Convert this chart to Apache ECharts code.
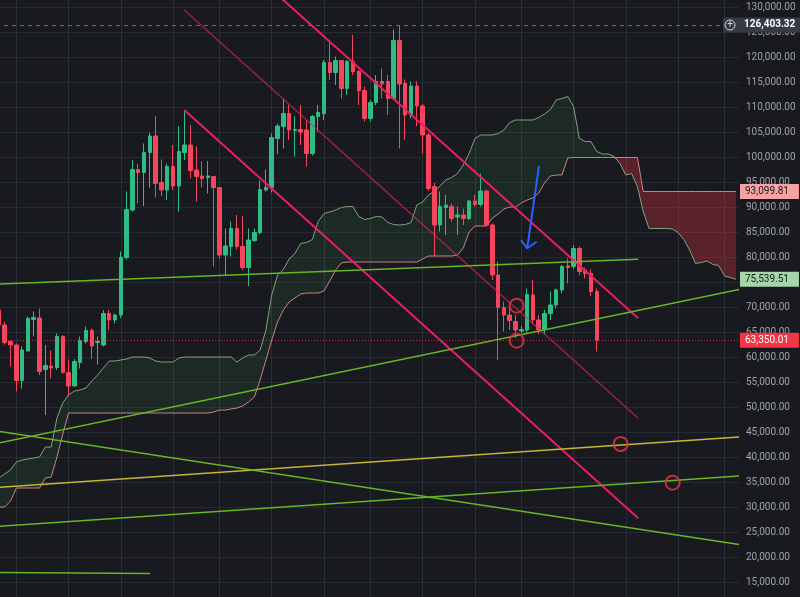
<!DOCTYPE html>
<html>
<head>
<meta charset="utf-8">
<title>BTC chart</title>
<script src="https://cdn.jsdelivr.net/npm/echarts@6/dist/echarts.min.js"></script>
<style>
    html, body { margin: 0; padding: 0; background: #181a20; }
    #main { width: 800px; height: 597px; }
</style>
</head>
<body>
<div id="main"></div>
<script>
// candles, one row per bar: [open, close, low, high]
var candles = [
    [69400, 66400, 65700, 70400], [66400, 62900, 62500, 67000], [63100, 62400, 58100, 63300],
    [62400, 55300, 53100, 62700], [55300, 61400, 53700, 62100], [61200, 67700, 61100, 68100],
    [67500, 67900, 64100, 69100], [67800, 57100, 56400, 69700], [57500, 58300, 48400, 62400],
    [58200, 57800, 55700, 61300], [57900, 64100, 57400, 64700], [64100, 56900, 56700, 64400],
    [56900, 54200, 52200, 59500], [54200, 59100, 54100, 59600], [58900, 63300, 57700, 64100],
    [63100, 65300, 62700, 66100], [65300, 62200, 59600, 65700], [62900, 63100, 58500, 64100],
    [62400, 68700, 62100, 69400], [68700, 67400, 65400, 69400], [67400, 68400, 66700, 68700],
    [68400, 79900, 67800, 81100], [79900, 89500, 79500, 93100], [89400, 97500, 89100, 99400],
    [97500, 96900, 90700, 98600], [96900, 100900, 90200, 102700], [100900, 104200, 93900, 104900],
    [104200, 94700, 91900, 108200], [94900, 93400, 92200, 99500], [93400, 98100, 91400, 98700],
    [98100, 94200, 93400, 102400], [94200, 101100, 89100, 106200], [100900, 102400, 99400, 109400],
    [102400, 97300, 95700, 106400], [97400, 96100, 91100, 102100], [96200, 95700, 93900, 99100],
    [95900, 96200, 92700, 99200], [96100, 93900, 78100, 96200], [93900, 80400, 79700, 94000],
    [80400, 82200, 76400, 85700], [82100, 85700, 80100, 87100], [85700, 82100, 81500, 88400],
    [82100, 77900, 77400, 88200], [77900, 83400, 74200, 85700], [83300, 84900, 83000, 85700],
    [84900, 93500, 84500, 95300], [93400, 93900, 93100, 97500], [93900, 103900, 92900, 104700],
    [103700, 106200, 100600, 106700], [106100, 108700, 101700, 111700], [108700, 105400, 103400, 110400],
    [105300, 105500, 100100, 108100], [105500, 105000, 102400, 110400], [105400, 100700, 98100, 107400],
    [100700, 108100, 100300, 108400], [108100, 108900, 105100, 110400], [108700, 118900, 107400, 119400],
    [118900, 116900, 115400, 123300], [116900, 119300, 114400, 120100], [119300, 113700, 111700, 119400],
    [113700, 119100, 112400, 119400], [119100, 117100, 116400, 124400], [117100, 113300, 110400, 117400],
    [113300, 107700, 107100, 114100], [107700, 110900, 107100, 111400], [110900, 115100, 110400, 116400],
    [115100, 114600, 111700, 117700], [115100, 111700, 108400, 116400], [111700, 123300, 111400, 125500],
    [123300, 114600, 101700, 126403.32], [114700, 108400, 103400, 115500], [108400, 114200, 107700, 115100],
    [114200, 110200, 106200, 115100], [110200, 104400, 100700, 110600], [104400, 93700, 93200, 104800],
    [94100, 86400, 80100, 94800], [86400, 90100, 85100, 93100], [89900, 90400, 84400, 92400],
    [90100, 87700, 87100, 90700], [88000, 88400, 84400, 90100], [88400, 87700, 86400, 89700],
    [87700, 91200, 87400, 91400], [91200, 90500, 90100, 92400], [90500, 93200, 90100, 96700],
    [93200, 86400, 86100, 93400], [86400, 76400, 75400, 86700], [76400, 69900, 59400, 79100],
    [69900, 68400, 65100, 71100], [68400, 67300, 65400, 70200], [67100, 65400, 63800, 68400],
    [65200, 65500, 64800, 66200], [65400, 72500, 64900, 73700], [72400, 67400, 66600, 75400],
    [67400, 65500, 64600, 68400], [65500, 68700, 64600, 69400], [68700, 70400, 67400, 73100],
    [70400, 73400, 69700, 73700], [73400, 78100, 72700, 78400], [78200, 77900, 74700, 79700],
    [78100, 81700, 77600, 82400], [81700, 77100, 76400, 82100], [77400, 76700, 75700, 77900],
    [76700, 73100, 72200, 77500], [73100, 63350.01, 61100, 73700]
];

// ichimoku leading spans, 26 bars shifted forward (128 slots)
var spanA = [
    35800, 36600, 37400, 39000, 39400, 39600, 39800, 40000, 42000, 42000,
    47800, 50800, 52400, 53200, 53400, 53800, 55200, 56400, 57800, 59200,
    59200, 59400, 59600, 60000, 60000, 60000, 59800, 59200, 59000, 59000,
    59000, 59800, 60000, 60000, 60000, 60000, 60000, 60000, 60000, 60000,
    60000, 59000, 59800, 60400, 60400, 61400, 65400, 72400, 76400, 77500,
    79600, 80700, 82700, 82900, 83500, 87100, 88700, 89000, 89400, 89900,
    90100, 90100, 88100, 87500, 87700, 88100, 88000, 86900, 86500, 86400,
    86500, 86900, 90400, 91000, 92400, 93100, 94200, 95400, 95900, 96700,
    98400, 100700, 103700, 104400, 104400, 104400, 104700, 105400, 106900, 107400,
    107400, 107400, 107400, 107900, 108600, 109500, 111400, 111700, 112100, 110100,
    103700, 103100, 103100, 101100, 100600, 100600, 100100, 98700, 96400, 96700,
    94100, 89100, 85700, 85700, 85700, 85700, 85600, 84900, 83500, 81400,
    78700, 78900, 79200, 78500, 78300, 76200, 75900, 75539.51
];
var spanB = [
    30000, 30000, 31200, 33800, 33800, 33800, 33800, 33800, 35800, 36000,
    40000, 44600, 48800, 48800, 48800, 48800, 48800, 48800, 48800, 48800,
    48800, 48800, 48800, 48800, 48800, 48800, 48800, 48800, 48800, 48800,
    48800, 48800, 48800, 48800, 48800, 48800, 48800, 49000, 49400, 49400,
    49600, 49800, 50200, 51000, 52000, 55400, 59400, 63400, 67000, 69400,
    71000, 71800, 72600, 72800, 72800, 72800, 73200, 75200, 77400, 78800,
    79000, 79000, 79000, 79000, 79000, 79000, 79000, 79000, 79000, 79000,
    79000, 79000, 79000, 79600, 80200, 80200, 80200, 80200, 80200, 80400,
    81800, 85000, 86200, 86200, 86200, 87800, 88600, 89600, 90000, 90000,
    90800, 91400, 91800, 92800, 94800, 96200, 96400, 96400, 99800, 99900,
    99900, 99900, 99900, 99900, 99900, 99900, 99900, 99900, 99900, 99900,
    99900, 93099.81, 93099.81, 93099.81, 93099.81, 93099.81, 93099.81, 93099.81, 93099.81, 93099.81,
    93099.81, 93099.81, 93099.81, 93099.81, 93099.81, 93099.81, 93099.81, 93099.81
];

// bars where a new month starts (vertical grid)
var monthStarts = [3, 12, 21, 30, 38, 47, 56, 64, 73, 82, 90, 99, 108, 117, 125];

// drawn lines, [bar, price] end points
var channelLow = [[31.94, 109400], [110.14, 27740]];
var channelMid = [[31.94, 129400], [110.14, 47740]];
var channelTop = [[47.0, 133470], [110.14, 67740]];
var greenLines = [
    [[-0.5, 74570], [110.14, 79540]],
    [[-0.5, 42700], [127.5, 73500]],
    [[-0.5, 45200], [127.5, 22500]],
    [[-0.5, 26100], [127.5, 36200]],
    [[-0.5, 16900], [26.03, 16700]]
];
var yellowLine = [[-0.5, 33900], [127.5, 44000]];
var circles = [[89.2, 70260], [89.2, 63260], [107.11, 42600], [116.07, 34860]];
var arrowShaft = [[93.04, 98200], [91.02, 81740]];
var arrowHead = [[89.94, 83400], [91.02, 81740], [92.64, 83060]];

// price labels on the scale
var athPrice = 126403.32;
var spanBNow = 93099.81;
var spanANow = 75539.51;
var lastPrice = 63350.01;

var SLOTS = 128;
var FONT = 'Roboto, "DejaVu Sans", sans-serif';

function fmt(v) {
    var p = Number(v).toFixed(2).split('.');
    p[0] = p[0].replace(/\B(?=(\d{3})+(?!\d))/g, ',');
    return p.join('.');
}

var cats = [];
for (var i = 0; i < SLOTS; i++) cats.push(String(i));

// cloud fill built from the two spans
var cloudBase = [], cloudUp = [], cloudDown = [];
for (var i = 0; i < SLOTS; i++) {
    cloudBase.push(Math.min(spanA[i], spanB[i]));
    cloudUp.push(Math.max(spanA[i] - spanB[i], 0));
    cloudDown.push(Math.max(spanB[i] - spanA[i], 0));
}

function priceTag(value, bg, fg, lineStyle) {
    return {
        yAxis: value,
        lineStyle: lineStyle || { color: 'rgba(0,0,0,0)', width: 1 },
        label: {
            show: true,
            position: 'end',
            distance: 1,
            formatter: fmt(value),
            backgroundColor: bg,
            color: fg,
            fontSize: 10,
            fontFamily: FONT,
            padding: [3, 10, 2, 5]
        }
    };
}

function trendSeries(points, color, width) {
    return {
        type: 'line',
        xAxisIndex: 1,
        data: points,
        symbol: 'none',
        silent: true,
        z: 4,
        lineStyle: { color: color, width: width }
    };
}

var series = [
    {
        type: 'line', stack: 'up', data: cloudBase, symbol: 'none', silent: true, z: 2,
        lineStyle: { opacity: 0 }
    },
    {
        type: 'line', stack: 'up', data: cloudUp, symbol: 'none', silent: true, z: 2,
        lineStyle: { opacity: 0 },
        areaStyle: { color: 'rgba(76, 175, 80, 0.1)', opacity: 1 }
    },
    {
        type: 'line', stack: 'down', data: cloudBase, symbol: 'none', silent: true, z: 2,
        lineStyle: { opacity: 0 }
    },
    {
        type: 'line', stack: 'down', data: cloudDown, symbol: 'none', silent: true, z: 2,
        lineStyle: { opacity: 0 },
        areaStyle: { color: 'rgba(242, 54, 69, 0.3)', opacity: 1 }
    },
    {
        type: 'line', data: spanA, symbol: 'none', silent: true, z: 2,
        lineStyle: { color: '#80a37c', width: 1 }
    },
    {
        type: 'line', data: spanB, symbol: 'none', silent: true, z: 2,
        lineStyle: { color: '#c98483', width: 1 }
    },
    {
        type: 'candlestick',
        data: candles,
        barWidth: 4,
        z: 3,
        itemStyle: {
            color: '#2ebd85',
            color0: '#f6465d',
            borderColor: '#2ebd85',
            borderColor0: '#f6465d',
            borderWidth: 1
        },
        markLine: {
            silent: true,
            symbol: ['none', 'none'],
            z: 6,
            animation: false,
            data: [
                {
                    yAxis: athPrice,
                    lineStyle: { color: '#6b6e78', width: 1, type: [4, 4] },
                    label: {
                        show: true,
                        position: 'end',
                        distance: -16,
                        formatter: '{i|+}{t|' + fmt(athPrice) + '}',
                        backgroundColor: '#363a45',
                        borderRadius: 2,
                        padding: [2, 6, 2, 2],
                        rich: {
                            i: {
                                width: 10, height: 10, lineHeight: 11, align: 'center',
                                borderRadius: 6, borderWidth: 1, borderColor: '#d1d4dc',
                                color: '#d1d4dc', fontSize: 10, fontFamily: FONT
                            },
                            t: {
                                padding: [0, 0, 0, 9], color: '#ffffff', fontSize: 10,
                                fontWeight: 'bold', fontFamily: FONT
                            }
                        }
                    }
                },
                priceTag(spanBNow, '#f7a3a3', '#131722'),
                priceTag(spanANow, '#a5d6a7', '#131722'),
                priceTag(lastPrice, '#f23645', '#ffffff',
                    { color: 'rgba(242, 54, 69, 0.75)', width: 1, type: [1, 2] })
            ]
        }
    },
    {
        type: 'line',
        xAxisIndex: 1,
        data: [],
        symbol: 'none',
        silent: true,
        markLine: {
            silent: true,
            symbol: ['none', 'none'],
            z: 1,
            animation: false,
            label: { show: false },
            lineStyle: { color: '#2a2e39', width: 1, type: 'solid' },
            data: monthStarts.map(function (m) { return { xAxis: m }; })
        }
    },
    trendSeries(channelLow, '#e91e63', 2),
    trendSeries(channelMid, 'rgba(233, 30, 99, 0.65)', 1.5),
    trendSeries(channelTop, '#e91e63', 2),
    trendSeries(yellowLine, '#c8b43a', 1.5)
];

greenLines.forEach(function (pts) {
    series.push(trendSeries(pts, '#67b626', 1.5));
});

series.push({
    type: 'scatter',
    xAxisIndex: 1,
    data: circles,
    symbol: 'circle',
    symbolSize: 14,
    silent: true,
    z: 5,
    itemStyle: { color: 'rgba(0,0,0,0)', borderColor: '#eb3340', borderWidth: 2 }
});
series.push(trendSeries(arrowShaft, '#2962ff', 2));
series.push(trendSeries(arrowHead, '#2962ff', 2));

var chart = echarts.init(document.getElementById('main'));
chart.setOption({
    backgroundColor: '#181a20',
    animation: false,
    grid: { left: -4, right: 61, top: -18, bottom: -10, outerBoundsMode: 'none', containLabel: false },
    xAxis: [
        { type: 'category', data: cats, boundaryGap: true, show: false },
        { type: 'value', min: -0.5, max: SLOTS - 0.5, show: false }
    ],
    yAxis: {
        type: 'value',
        position: 'right',
        min: 10000,
        max: 135000,
        interval: 5000,
        scale: true,
        axisLine: { show: true, lineStyle: { color: '#2a2e39' } },
        axisTick: { show: false },
        splitLine: { lineStyle: { color: '#262a33', width: 1 } },
        axisLabel: {
            color: '#a0a3ab',
            fontSize: 10,
            fontFamily: FONT,
            margin: 7,
            formatter: fmt
        }
    },
    series: series
});
</script>
</body>
</html>
